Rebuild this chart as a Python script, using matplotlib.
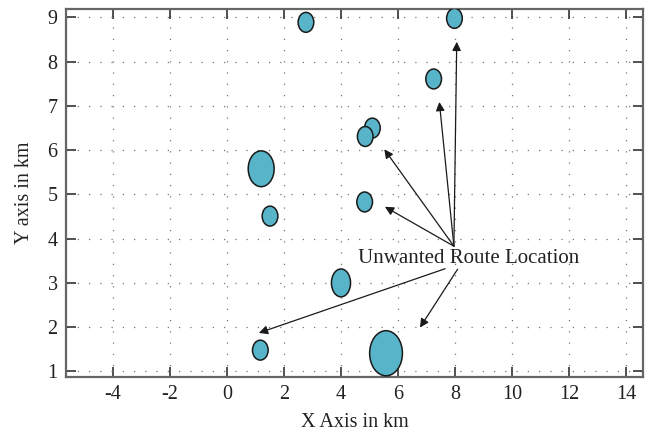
import matplotlib
matplotlib.use("Agg")
import matplotlib.pyplot as plt
from matplotlib.patches import Ellipse

plt.rcParams['font.family'] = ['Liberation Serif', 'DejaVu Serif']
plt.rcParams['axes.unicode_minus'] = False

# route locations (km) and ellipse sizes (km)
site_x = [2.77, 7.98, 7.25, 5.10, 4.85, 1.20, 1.51, 4.83, 4.00, 1.17, 5.58]
site_y = [8.89, 8.98, 7.61, 6.50, 6.31, 5.58, 4.51, 4.83, 3.00, 1.48, 1.41]
site_w = [0.55, 0.55, 0.55, 0.55, 0.55, 0.91, 0.55, 0.55, 0.67, 0.55, 1.15]
site_h = [0.45, 0.45, 0.45, 0.45, 0.45, 0.81, 0.45, 0.45, 0.63, 0.45, 1.02]

# annotation arrows: start points and tips
arrow_x0 = [7.96, 7.96, 7.96, 7.96, 7.65, 8.09]
arrow_y0 = [3.83, 3.83, 3.83, 3.83, 3.32, 3.31]
arrow_x1 = [8.06, 7.45, 5.52, 5.54, 1.12, 6.77]
arrow_y1 = [8.45, 7.09, 6.02, 4.72, 1.87, 1.99]
label = "Unwanted Route Location"
label_x, label_y = 8.46, 3.55

fig = plt.figure(figsize=(6.59, 4.32), dpi=100)
ax = fig.add_axes([0.100, 0.127, 0.876, 0.852])

for x, y, w, h in zip(site_x, site_y, site_w, site_h):
    ax.add_patch(Ellipse((x, y), w, h, facecolor='#58b4c9', edgecolor='#1a1a1a',
                         lw=1.1, zorder=3))

for x0, y0, x1, y1 in zip(arrow_x0, arrow_y0, arrow_x1, arrow_y1):
    ax.annotate('', xy=(x1, y1), xytext=(x0, y0),
                arrowprops=dict(arrowstyle='-|>', color='#1a1a1a', lw=0.9,
                                mutation_scale=13, shrinkA=0, shrinkB=0),
                zorder=4)

ax.text(label_x, label_y, label, ha='center', va='center', fontsize=15,
        color='#222222', zorder=5)

ax.set_xlim(-5.65, 14.6)
ax.set_ylim(0.87, 9.19)
ax.set_xticks(range(-4, 15, 2))
ax.set_yticks(range(1, 10))
ax.grid(True, linestyle=(0, (1, 8)), color='#777777', lw=0.9)
ax.set_axisbelow(True)

ax.tick_params(direction='in', length=7, width=1.2, color='#333333',
               top=True, right=True, labelsize=14.5, labelcolor='#222222', pad=6)
for s in ax.spines.values():
    s.set_color('#666666')
    s.set_linewidth(1.6)

ax.set_xlabel('X Axis in km', fontsize=14.5, color='#222222', labelpad=6)
ax.set_ylabel('Y axis in km', fontsize=14.5, color='#222222', labelpad=10)

fig.savefig('out.png', dpi=100)
